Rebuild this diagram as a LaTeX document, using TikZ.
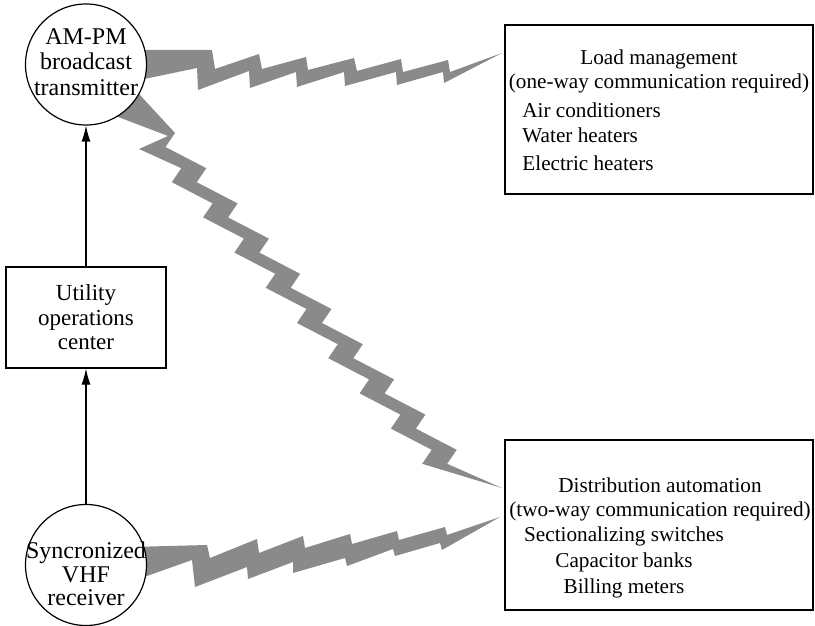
\documentclass[tikz,border=0pt]{standalone}
\usepackage{fontspec}
\setmainfont{Liberation Serif}
\usetikzlibrary{arrows.meta}
\definecolor{boltgray}{RGB}{138,138,138}
\begin{document}
\begin{tikzpicture}[x=0.5pt,y=-0.5pt,
  bolt/.style={fill=boltgray},
  ring/.style={circle, draw, line width=0.6pt, fill=white, minimum size=60.5pt, inner sep=0pt},
  panel/.style={draw, line width=0.6pt, fill=white, inner sep=0pt},
  ctxt/.style={inner sep=0pt, anchor=base, font=\fontsize{12}{12.5}\selectfont},
  utxt/.style={inner sep=0pt, anchor=base, font=\fontsize{11.5}{12.5}\selectfont},
  btxt/.style={inner sep=0pt, anchor=base, font=\fontsize{10.6}{12.5}\selectfont},
  ltxt/.style={inner sep=0pt, anchor=base west, font=\fontsize{10.6}{12.5}\selectfont},
  link/.style={line width=0.6pt, -{Latex[length=8pt,width=4.5pt]}}]
\useasboundingbox (0,0) rectangle (815,626);

% lightning bolts
\fill[bolt] (130,50) -- (212,50) -- (215,69) -- (259,54) -- (262,69) -- (306,57) -- (308,70)
  -- (354,58) -- (357,71) -- (401,59) -- (403,72) -- (448,60) -- (450,72) -- (502,53)
  -- (444,83) -- (443,72) -- (397,85) -- (396,72) -- (345,86) -- (344,72) -- (297,87)
  -- (296,72) -- (250,88) -- (249,71) -- (198,90) -- (197,68) -- (130,82) -- cycle;

\fill[bolt] (130,547) -- (207,545) -- (210,558) -- (257,539) -- (259,553) -- (303,536)
  -- (305,548) -- (350,534) -- (352,544) -- (397,531) -- (399,540) -- (445,527) -- (447,535)
  -- (500,517) -- (442,550) -- (440,543) -- (395,556) -- (393,549) -- (347,566) -- (345,558)
  -- (293,573) -- (293,562) -- (248,579) -- (247,567) -- (195,587) -- (192,560) -- (130,582) -- cycle;

\fill[bolt] (128,82) -- (175,133) -- (165.5,147) -- (206.3,168.2) -- (196.8,182.2)
  -- (237.6,203.4) -- (228.1,217.4) -- (268.9,238.6) -- (259.4,252.6) -- (300.2,273.8)
  -- (290.7,287.8) -- (331.5,309) -- (322,323) -- (362.8,344.2) -- (353.3,358.2)
  -- (394.1,379.4) -- (384.6,393.4) -- (425.4,414.6) -- (415.9,428.6) -- (456.7,449.8)
  -- (447.2,463.8) -- (502,488)
  -- (422.2,463.8) -- (431.7,449.8) -- (390.9,428.6) -- (400.4,414.6) -- (359.6,393.4)
  -- (369.1,379.4) -- (328.3,358.2) -- (337.8,344.2) -- (297,323) -- (306.5,309)
  -- (265.7,287.8) -- (275.2,273.8) -- (234.4,252.6) -- (243.9,238.6) -- (203.1,217.4)
  -- (212.6,203.4) -- (171.8,182.2) -- (181.3,168.2) -- (139,149) -- (168,136)
  -- (100,110) -- cycle;

% nodes
\node[ring] (amc) at (86,64.5) {};
\node[ring] (rcv) at (86,565) {};
\node[panel, minimum width=80pt, minimum height=50.5pt] (util) at (86,317.5) {};
\node[panel, minimum width=154pt, minimum height=84.5pt] (load) at (659,109.5) {};
\node[panel, minimum width=154pt, minimum height=85pt] (dist) at (659,525) {};

% texts
\node[ctxt] (am1) at (86,45) {AM-PM};
\node[ctxt] (am2) at (86,70) {broadcast};
\node[ctxt] (am3) at (86,96) {transmitter};
\node[ctxt] (rc1) at (86,558) {Syncronized};
\node[ctxt] (rc2) at (86,582) {VHF};
\node[ctxt] (rc3) at (86,605) {receiver};
\node[utxt] (ut1) at (86,300) {Utility};
\node[utxt] (ut2) at (86,325) {operations};
\node[utxt] (ut3) at (86,350) {center};

\node[btxt] (ld1) at (659,65) {Load management};
\node[btxt] (ld2) at (659,89) {(one-way communication required)};
\node[ltxt] (ld3) at (522,118) {Air conditioners};
\node[ltxt] (ld4) at (522,143) {Water heaters};
\node[ltxt] (ld5) at (522,170) {Electric heaters};

\node[btxt] (ds1) at (660,492) {Distribution automation};
\node[btxt] (ds2) at (660,516) {(two-way communication required)};
\node[btxt] (ds3) at (624,541) {Sectionalizing switches};
\node[btxt] (ds4) at (624,567) {Capacitor banks};
\node[btxt] (ds5) at (624,593) {Billing meters};

% connectors
\draw[link] (util.north) -- (amc.south);
\draw[link] (rcv.north) -- (util.south);
\end{tikzpicture}
\end{document}
